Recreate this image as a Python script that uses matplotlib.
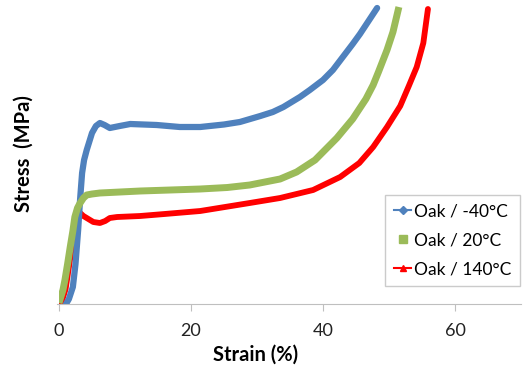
import matplotlib
matplotlib.use("Agg")
import matplotlib.pyplot as plt
from matplotlib.lines import Line2D

# ── Data (strain %, stress in arbitrary MPa units) ────────────────────────────
cold_strain = [1.06, 1.5, 2.1, 2.5, 2.9, 3.2, 3.5, 3.8, 4.2, 5.0, 5.6, 6.2, 6.9, 7.7,
               9.2, 10.8, 14.8, 18.3, 21.4, 25.0, 27.4, 30.5, 32.4, 34.0, 36.5, 38.0,
               40.0, 41.5, 43.0, 44.5, 45.6, 46.7, 48.2]
cold_stress = [0.0, 1.0, 3.4, 8.0, 14.8, 21.0, 26.2, 28.8, 30.8, 34.2, 35.6, 36.2, 35.8,
               35.2, 35.6, 36.0, 35.8, 35.4, 35.4, 35.9, 36.4, 37.6, 38.4, 39.4, 41.4,
               42.8, 44.8, 46.8, 49.4, 52.0, 54.0, 56.2, 59.2]

room_strain = [0.0, 0.6, 0.9, 1.3, 1.7, 2.1, 2.4, 2.8, 3.2, 3.7, 4.2, 5.0, 6.2, 12.3,
               21.4, 25.5, 28.9, 33.5, 36.0, 38.8, 42.1, 44.5, 46.5, 47.6, 48.4, 49.7,
               50.6, 51.5]
room_stress = [0.2, 2.8, 4.8, 8.0, 11.4, 14.6, 17.4, 19.2, 20.2, 21.2, 21.8, 22.0, 22.2,
               22.6, 23.0, 23.3, 23.8, 25.0, 26.4, 28.8, 33.2, 37.0, 41.0, 43.8, 46.4,
               50.8, 54.4, 59.4]

hot_strain = [0.3, 1.0, 1.8, 2.5, 3.2, 3.7, 4.2, 5.2, 6.2, 7.0, 7.7, 8.8, 12.3, 16.0,
              21.4, 28.9, 33.5, 38.5, 42.6, 45.5, 47.6, 49.7, 51.7, 53.0, 54.2, 55.2, 55.9]
hot_stress = [0.0, 3.0, 10.0, 17.0, 18.2, 17.6, 17.2, 16.4, 16.2, 16.6, 17.2, 17.4, 17.6,
              18.0, 18.6, 20.2, 21.2, 22.8, 25.4, 28.2, 31.4, 35.4, 39.6, 43.6, 47.4,
              52.2, 59.0]

labels = ["Oak / -40°C", "Oak / 20°C", "Oak / 140°C"]
x_ticks = [0, 20, 40, 60]

BLUE  = "#4F81BD"
GREEN = "#9BBB59"
RED   = "#FF0000"

plt.rcParams["font.family"] = ["Lato", "DejaVu Sans"]

fig = plt.figure(figsize=(5.24, 3.69), dpi=100)
ax = fig.add_axes([59 / 524, 65 / 369, 462 / 524, 300 / 369])

ax.plot(cold_strain, cold_stress, color=BLUE, lw=4.5, solid_capstyle="round",
        solid_joinstyle="round", zorder=2)
ax.plot(room_strain, room_stress, color=GREEN, lw=5, solid_capstyle="butt",
        solid_joinstyle="round", zorder=3)
ax.plot(hot_strain, hot_stress, color=RED, lw=4.2, solid_capstyle="round",
        solid_joinstyle="round", zorder=1)

ax.set_xlim(0, 70)
ax.set_ylim(0, 60)
ax.set_xticks(x_ticks)
ax.set_yticks([])
for s in ["top", "right", "left"]:
    ax.spines[s].set_visible(False)
ax.spines["bottom"].set_color("#BFBFBF")
ax.spines["bottom"].set_bounds(-0.3, 70)
ax.tick_params(axis="x", direction="out", length=5, color="#BFBFBF",
               labelsize=13, labelcolor="#222222", pad=9)

ax.set_xlabel("Strain (%)", fontsize=14.5, fontweight="bold")
ax.xaxis.set_label_coords(0.426, -0.135)
ax.set_ylabel("Stress  (MPa)", fontsize=14.5, fontweight="bold")
ax.yaxis.set_label_coords(-0.055, 0.5)

handles = [
    Line2D([], [], color=BLUE, lw=1.5, marker="D", markersize=4),
    Line2D([], [], color=GREEN, lw=0, marker="s", markersize=6),
    Line2D([], [], color=RED, lw=1.5, marker="^", markersize=4),
]
leg = ax.legend(handles, labels, loc="lower right", bbox_to_anchor=(0.998, 0.06),
                borderaxespad=0, fontsize=12.5, frameon=True, fancybox=False,
                handlelength=1.0, handletextpad=0.15, labelspacing=0.75,
                borderpad=0.5)
leg.get_frame().set_edgecolor("#BFBFBF")
leg.get_frame().set_linewidth(1.0)

fig.savefig("out.png", dpi=100)
